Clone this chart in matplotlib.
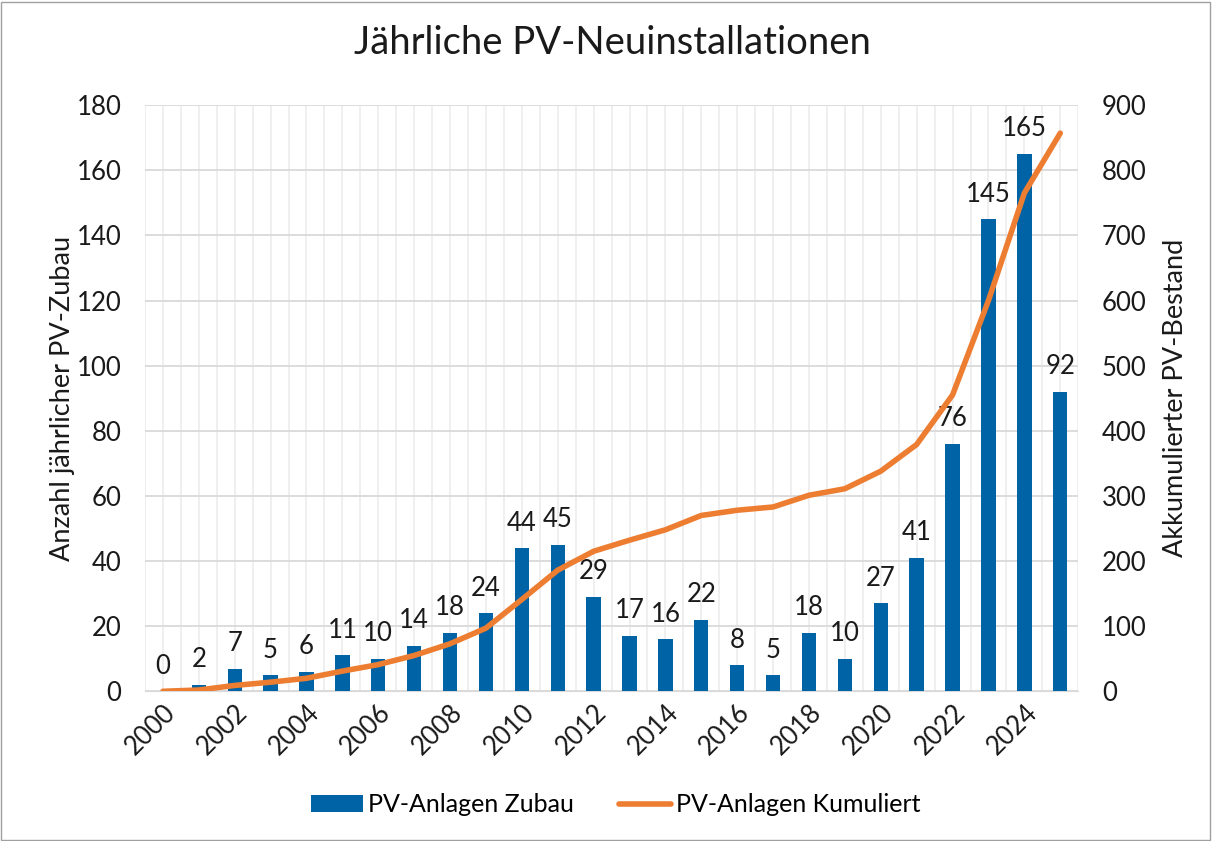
import matplotlib
matplotlib.use('Agg')
import numpy as np
import matplotlib.pyplot as plt
from matplotlib.patches import Rectangle

years = list(range(2000, 2026))
zubau = [0, 2, 7, 5, 6, 11, 10, 14, 18, 24, 44, 45, 29, 17, 16, 22, 8, 5, 18, 10, 27, 41, 76, 145, 165, 92]
kumuliert = [0, 2, 9, 14, 20, 31, 41, 55, 73, 97, 141, 186, 215, 232, 248, 270, 278, 283, 301, 311, 338, 379, 455, 600, 765, 857]
tick_years = [str(y) for y in years[::2]]

plt.rcParams['font.family'] = ['Lato', 'DejaVu Sans']

bar_color = '#0063A6'
line_color = '#ED7D31'
text_color = '#1a1a1a'

fig = plt.figure(figsize=(12.12, 8.41), dpi=100)
ax = fig.add_axes([0.1196, 0.178, 0.77, 0.697])
ax2 = ax.twinx()

x = np.arange(len(years))
ax.bar(x, zubau, width=0.4, color=bar_color, zorder=3, label='PV-Anlagen Zubau')
ax2.plot(x, kumuliert, color=line_color, lw=4, solid_capstyle='round', label='PV-Anlagen Kumuliert')

# value labels above bars
for xi, v in zip(x, zubau):
    ax.annotate(str(v), (xi, v), xytext=(0, 9), textcoords='offset points',
                ha='center', va='bottom', fontsize=18.5, color=text_color)

ax.set_xlim(-0.5, 25.5)
ax.set_ylim(0, 180)
ax.set_yticks(range(0, 181, 20))
ax2.set_ylim(0, 900)
ax2.set_yticks(range(0, 901, 100))

ax.set_xticks(x[::2])
ax.set_xticklabels(tick_years, rotation=45, ha='right', rotation_mode='anchor')
ax.set_xticks(np.arange(-0.5, 26, 0.5), minor=True)
ax.tick_params(axis='x', which='minor', length=0)

ax.grid(axis='y', color='#d9d9d9', lw=1.3, zorder=0)
ax.grid(axis='x', which='both', color='#eeeeee', lw=1.3, zorder=0)
ax.set_axisbelow(True)

for a in (ax, ax2):
    for s in a.spines.values():
        s.set_visible(False)
    a.tick_params(length=0, labelsize=18.5, colors=text_color)
ax.spines['bottom'].set_visible(True)
ax.spines['bottom'].set_color('#d9d9d9')
ax.tick_params(axis='x', pad=6)
ax.tick_params(axis='y', pad=17)
ax2.tick_params(axis='y', pad=17)

ax.set_ylabel('Anzahl jährlicher PV-Zubau', fontsize=19.5, color=text_color, labelpad=1)
ax2.set_ylabel('Akkumulierter PV-Bestand', fontsize=19.5, color=text_color, labelpad=12)
fig.suptitle('Jährliche PV-Neuinstallationen', x=0.505, y=0.97, fontsize=27.5, color=text_color)

h1, l1 = ax.get_legend_handles_labels()
h2, l2 = ax2.get_legend_handles_labels()
fig.legend(h1 + h2, l1 + l2, loc='center', bbox_to_anchor=(0.508, 0.043), ncol=2,
           frameon=False, fontsize=18, handlelength=2.1, handletextpad=0.2, columnspacing=1.8)

fig.patches.append(Rectangle((0.001, 0.001), 0.997, 0.997, transform=fig.transFigure,
                             fill=False, edgecolor='#a0a0a0', lw=1))

fig.savefig('out.png', dpi=100)
